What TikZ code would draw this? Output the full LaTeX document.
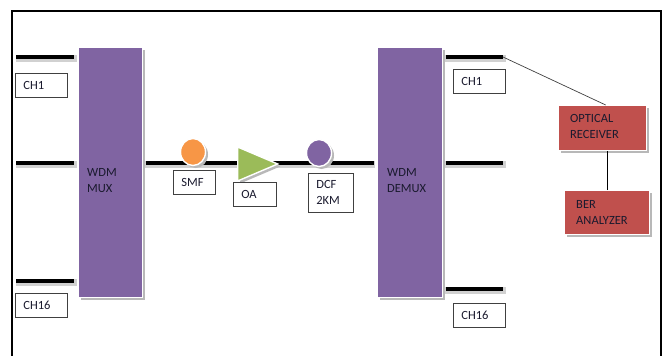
\documentclass[tikz,border=0pt]{standalone}
\usepackage{fontspec}
\setmainfont{Carlito}
\usetikzlibrary{shapes.geometric}
\definecolor{mpurple}{HTML}{8064A2}
\definecolor{mred}{HTML}{C0504D}
\definecolor{mgreen}{HTML}{9BBB59}
\definecolor{morange}{HTML}{F79646}
\definecolor{mtext}{HTML}{1A1A2E}
\begin{document}
\begin{tikzpicture}[x=1pt,y=-1pt,
  every node/.style={font=\fontsize{12.5}{17}\selectfont, text=mtext},
  sh/.style={preaction={fill=black!28, transform canvas={xshift=2.5pt,yshift=-2.5pt}}},
  block/.style={sh, draw=white, line width=1.4pt, inner sep=0pt, anchor=north west},
  lbl/.style={draw=black!75, line width=0.7pt, fill=white, anchor=north west,
    minimum height=24pt, inner sep=0pt, inner xsep=8pt, align=left},
  txt/.style={anchor=west, inner sep=0pt, align=left},
  chan/.style={line width=4pt, black},
  halo/.style={line width=7pt, black!18},
  conn/.style={draw=black!75, line width=0.7pt}]
\useasboundingbox (0,0) rectangle (664,356);
% frame
\draw[line width=2pt] (12,356) -- (12,11) -- (661,11) -- (661,356);

% MUX and DEMUX blocks
\node[block, fill=mpurple, minimum width=64pt, minimum height=250pt] (mux) at (78,47) {};
\node[block, fill=mpurple, minimum width=65pt, minimum height=250pt] (demux) at (377,47) {};
\node[txt] (muxt) at (87,181) {WDM\\[-1pt]MUX};
\node[txt] (demuxt) at (387,181) {WDM\\[-1pt]DEMUX};

% input channel lines
\coordinate (i1) at (16,57);  \coordinate (m1) at (mux.west |- i1);
\coordinate (i2) at (16,163); \coordinate (m2) at (mux.west |- i2);
\coordinate (i3) at (16,281); \coordinate (m3) at (mux.west |- i3);
\foreach \a/\b in {i1/m1,i2/m2,i3/m3}{
  \draw[halo] ([yshift=-1.5pt]\a) -- ([xshift=-1pt,yshift=-1.5pt]\b);
  \draw[chan] (\a) -- ([xshift=-4pt]\b);
}
% output channel lines
\coordinate (o1) at (503,57);  \coordinate (d1) at (demux.east |- o1);
\coordinate (o2) at (503,163); \coordinate (d2) at (demux.east |- o2);
\coordinate (o3) at (503,289); \coordinate (d3) at (demux.east |- o3);
\foreach \a/\b in {o1/d1,o2/d2,o3/d3}{
  \draw[halo] ([xshift=2pt,yshift=-1.5pt]\b) -- ([xshift=3pt,yshift=-1.5pt]\a);
  \draw[chan] ([xshift=3pt]\b) -- (\a);
}
% main link
\coordinate (la) at (mux.east |- 0,163);
\coordinate (lb) at (demux.west |- 0,163);
\draw[halo] ([xshift=2pt,yshift=-1.5pt]la) -- ([xshift=-2pt,yshift=-1.5pt]lb);
\draw[chan] ([xshift=3pt]la) -- ([xshift=-3pt]lb);

% components
\node[sh, ellipse, draw=white, line width=1.4pt, fill=morange, minimum width=25pt, minimum height=27pt, inner sep=0pt] (smf) at (193,152) {};
\node[sh, isosceles triangle, isosceles triangle apex angle=46, draw=white, line width=1.4pt, fill=mgreen, minimum height=40pt, inner sep=0pt, anchor=lower side] (oa) at (237,164) {};
\node[sh, ellipse, draw=white, line width=1.4pt, fill=mpurple, minimum width=25pt, minimum height=27pt, inner sep=0pt] (dcf) at (319,153) {};

% labels
\node[lbl, minimum width=52pt, text width=36pt] (ch1a) at (15,73) {CH1};
\node[lbl, minimum width=52pt, text width=36pt] (ch16a) at (15,293) {CH16};
\node[lbl, minimum width=52pt, text width=36pt] (ch1b) at (453,69) {CH1};
\node[lbl, minimum width=52pt, text width=36pt] (ch16b) at (453,303) {CH16};
\node[lbl, minimum width=42pt, text width=26pt] (smfl) at (173,170) {SMF};
\node[lbl, minimum width=43pt, text width=27pt] (oal) at (233,182) {OA};
\node[lbl, minimum width=45pt, minimum height=39pt, text width=29pt, inner xsep=8pt] (dcfl) at (308,173) {DCF\\[-1pt]2KM};

% receiver and analyzer
\node[block, fill=mred, minimum width=88pt, minimum height=45pt] (rx) at (558,105) {};
\node[txt] (rxt) at (570,126) {OPTICAL\\[-1pt]RECEIVER};
\node[block, fill=mred, minimum width=85pt, minimum height=44pt] (ber) at (564,190) {};
\node[txt] (bert) at (576,212) {BER\\[-1pt]ANALYZER};

\draw[conn] (o1) -- ([xshift=3pt]rx.north);
\draw[conn, black] (ber.north) -- (ber.north |- rx.south);
\end{tikzpicture}
\end{document}
